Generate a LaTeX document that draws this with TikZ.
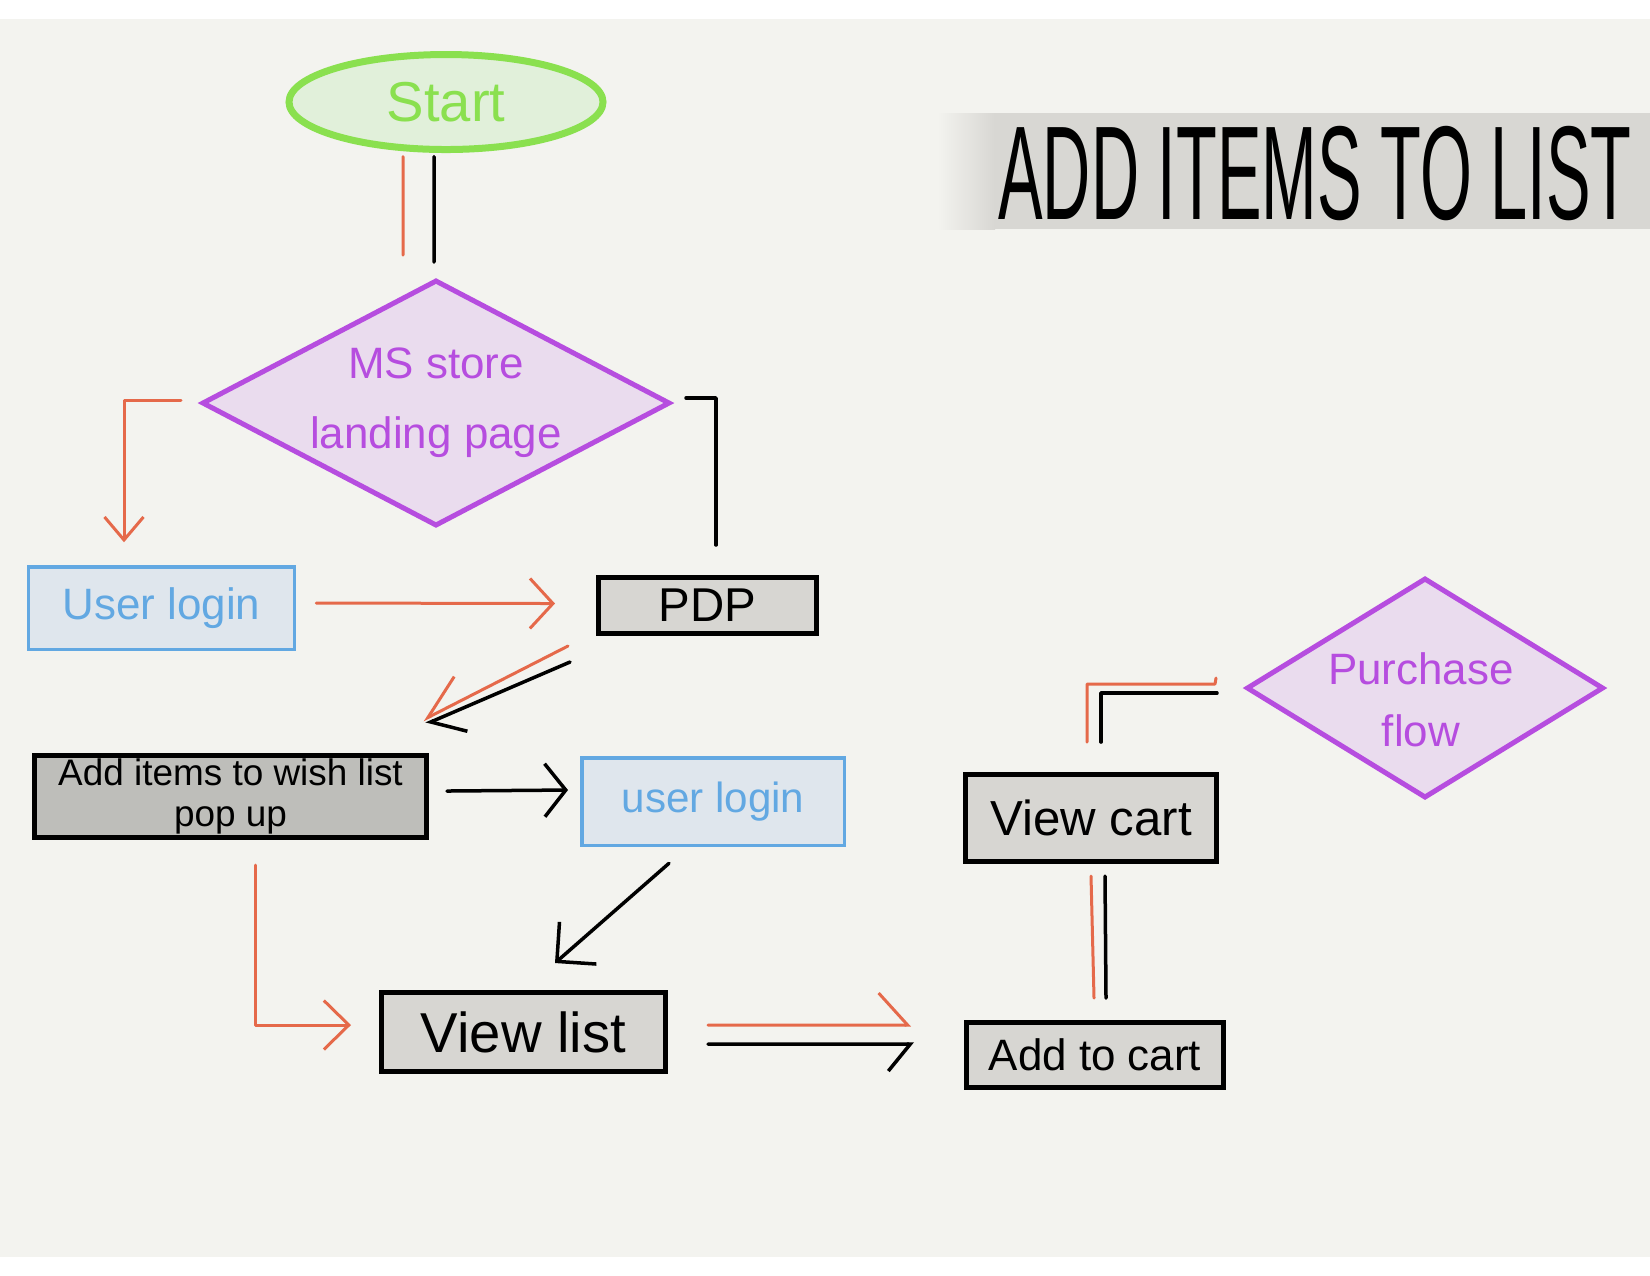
\documentclass[tikz,border=0pt]{standalone}
\usepackage{fontspec}
\setmainfont{Liberation Sans}
\usepackage{graphicx}
\usetikzlibrary{arrows.meta,shapes.geometric}

\definecolor{paper}{HTML}{F3F3EF}
\definecolor{bandgray}{HTML}{D8D7D3}
\definecolor{startgreen}{HTML}{8AE04F}
\definecolor{startfill}{HTML}{E1F0DA}
\definecolor{flowpurple}{HTML}{B64DDF}
\definecolor{flowfill}{HTML}{EADCEE}
\definecolor{loginblue}{HTML}{62A8E2}
\definecolor{loginfill}{HTML}{DFE6ED}
\definecolor{boxgray}{HTML}{D7D6D2}
\definecolor{boxdark}{HTML}{BEBEBA}
\definecolor{penorange}{HTML}{E5694A}

\begin{document}
\begin{tikzpicture}[x=1mm,y=-1mm,
    every node/.style={inner sep=0pt,outer sep=0pt},
    graybox/.style={rectangle,draw=black,line width=0.5mm,fill=boxgray},
    loginbox/.style={rectangle,draw=loginblue,line width=0.35mm,fill=loginfill,text=loginblue},
    choice/.style={diamond,draw=flowpurple,line width=0.5mm,fill=flowfill},
    choicetext/.style={text=flowpurple,align=center},
    orangepen/.style={draw=penorange,line width=0.3mm,line cap=round,line join=round},
    blackpen/.style={draw=black,line width=0.35mm,line cap=round,line join=round}]
  \useasboundingbox (0,0) rectangle (165,127.5);
  \fill[white] (0,0) rectangle (165,127.5);
  \fill[paper] (0,1.9) rectangle (165,125.7);
  \fill[left color=paper,right color=bandgray] (93.7,11.3) rectangle (99.5,22.9);
  \fill[bandgray] (99.5,11.3) rectangle (165,22.9);
  \node (title) at (131.5,17.4) {\scalebox{0.5}[1]{\fontsize{38}{38}\selectfont ADD ITEMS TO LIST}};

  \node[ellipse,draw=startgreen,line width=0.7mm,fill=startfill,minimum width=31.4mm,minimum height=9.5mm,text=startgreen,font=\fontsize{16}{16}\selectfont] (start) at (44.6,10.2) {Start};
  \node[choice,minimum width=46.6mm,minimum height=24.4mm] (landing) at (43.6,40.3) {};
  \node[choicetext,font=\fontsize{12.5}{20}\selectfont] (landingtext) at (43.6,40.3) {MS store\\landing page};
  \node[loginbox,minimum width=26.55mm,minimum height=8.25mm,font=\fontsize{12.5}{12.5}\selectfont] (login1) at (16.15,60.8) {User login};
  \node[graybox,minimum width=21.8mm,minimum height=5.6mm,font=\fontsize{13.5}{13.5}\selectfont] (pdp) at (70.75,60.55) {PDP};
  \node[graybox,fill=boxdark,minimum width=39.2mm,minimum height=8.2mm,align=center,font=\fontsize{10.5}{11.5}\selectfont] (wish) at (23.05,79.65) {Add items to wish list\\pop up};
  \node[loginbox,minimum width=26.25mm,minimum height=8.75mm,font=\fontsize{12}{12}\selectfont] (login2) at (71.3,80.15) {user login};
  \node[graybox,minimum width=28.4mm,minimum height=7.9mm,font=\fontsize{16}{16}\selectfont] (viewlist) at (52.35,103.2) {View list};
  \node[graybox,minimum width=25.7mm,minimum height=6.5mm,font=\fontsize{12.5}{12.5}\selectfont] (addcart) at (109.5,105.5) {Add to cart};
  \node[graybox,minimum width=25.1mm,minimum height=8.7mm,font=\fontsize{14}{14}\selectfont] (viewcart) at (109.1,81.8) {View cart};
  \node[choice,minimum width=35.5mm,minimum height=21.8mm] (purchase) at (142.5,68.8) {};
  \node[choicetext,font=\fontsize{12.5}{17.5}\selectfont] (purchasetext) at (142.1,70) {Purchase\\flow};

  \draw[orangepen] ([xshift=-4.3mm,yshift=-0.7mm]start.south) -- ([xshift=-3.3mm,yshift=2.6mm]landing.north);
  \draw[blackpen] ([xshift=-1.2mm,yshift=-0.7mm]start.south) -- ([xshift=-0.2mm,yshift=1.9mm]landing.north);
  \draw[orangepen,-{Straight Barb[length=2.3mm,width=3.9mm]}] ([xshift=-2.2mm,yshift=0.3mm]landing.west) -| ([xshift=-3.75mm,yshift=2.45mm]login1.north);
  \draw[blackpen] ([xshift=1.7mm,yshift=0.5mm]landing.east) -| ([xshift=0.85mm,yshift=3.25mm]pdp.north);
  \draw[orangepen,-{Straight Barb[length=2.3mm,width=5mm]}] ([xshift=2.2mm,yshift=0.5mm]login1.east) -- ([xshift=-4.35mm,yshift=0.2mm]pdp.west);
  \draw[orangepen,-{Straight Barb[length=4.2mm,width=4.9mm,right]}] ([xshift=-3.05mm,yshift=-1.25mm]pdp.south west) -- ([xshift=-0.35mm,yshift=3.55mm]wish.north east);
  \draw[blackpen,-{Straight Barb[length=3mm,width=4.6mm,left]}] ([xshift=-2.85mm,yshift=-2.85mm]pdp.south west) -- ([xshift=-0.05mm,yshift=3.15mm]wish.north east);
  \draw[blackpen,-{Straight Barb[length=2.1mm,width=5.3mm]}] ([xshift=2.05mm,yshift=0.55mm]wish.east) -- ([xshift=-1.375mm,yshift=1.15mm]login2.west);
  \draw[blackpen,-{Straight Barb[length=2.8mm,width=5.6mm]}] ([xshift=-4.4mm,yshift=-1.8mm]login2.south) -- ([xshift=3.15mm,yshift=2.95mm]viewlist.north);
  \draw[orangepen,-{Straight Barb[length=2.5mm,width=4.9mm]}] ([xshift=2.45mm,yshift=-2.75mm]wish.south) |- ([xshift=-3.05mm,yshift=0.7mm]viewlist.west);
  \draw[orangepen,-{Straight Barb[length=2.9mm,width=6.4mm,left]}] ([xshift=4.25mm,yshift=0.7mm]viewlist.east) -- ([xshift=-5.55mm,yshift=3mm]addcart.west);
  \draw[blackpen,-{Straight Barb[length=2.2mm,width=5.4mm,right]}] ([xshift=4.25mm,yshift=-1.2mm]viewlist.east) -- ([xshift=-5.25mm,yshift=1.1mm]addcart.west);
  \draw[orangepen] ([xshift=-0.1mm,yshift=2.45mm]addcart.north) -- ([yshift=-1.45mm]viewcart.south);
  \draw[blackpen] ([xshift=1.1mm,yshift=2.45mm]addcart.north) -- ([xshift=1.4mm,yshift=-1.45mm]viewcart.south);
  \draw[orangepen] ([xshift=-0.4mm,yshift=3.25mm]viewcart.north) |- ([xshift=-3.25mm,yshift=0.4mm]purchase.west) -- ++(0.1,-0.6);
  \draw[blackpen] ([xshift=1mm,yshift=3.25mm]viewcart.north) |- ([xshift=-3.05mm,yshift=-0.5mm]purchase.west);
\end{tikzpicture}
\end{document}
